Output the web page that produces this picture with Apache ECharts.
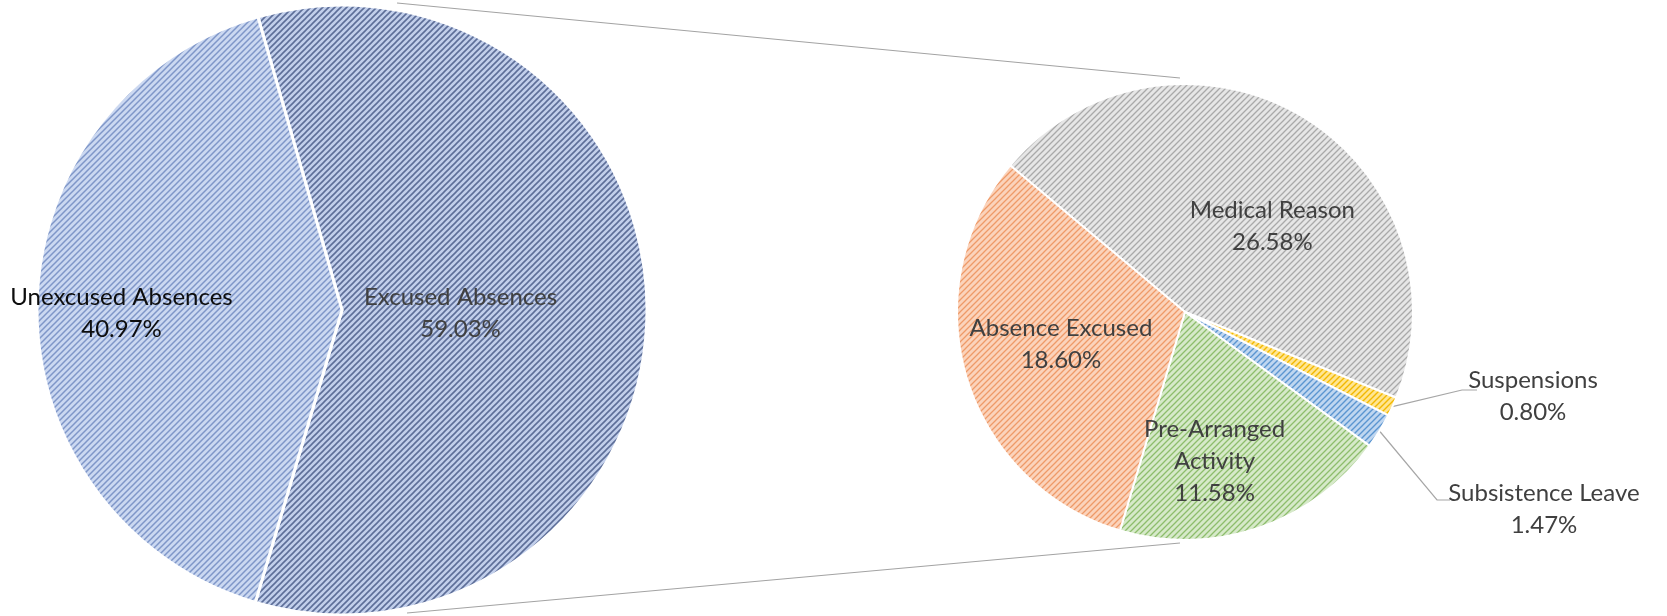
<!DOCTYPE html>
<html>
<head>
<meta charset="utf-8">
<script src="https://cdn.jsdelivr.net/npm/echarts@6/dist/echarts.min.js"></script>
<style>
  html, body { margin: 0; padding: 0; background: #ffffff; }
  #chart { width: 1667px; height: 616px; }
</style>
</head>
<body>
<div id="chart"></div>
<script>
// ---- data ----
const mainCategories = ['Excused Absences', 'Unexcused Absences'];
const mainValues = [59.03, 40.97];
const detailCategories = ['Medical Reason', 'Suspensions', 'Subsistence Leave', 'Pre-Arranged Activity', 'Absence Excused'];
const detailLabels = ['Medical Reason', 'Suspensions', 'Subsistence Leave', 'Pre-Arranged\nActivity', 'Absence Excused'];
const detailValues = [26.58, 0.80, 1.47, 11.58, 18.60];

// ---- geometry / style ----
const C1 = [342, 310], R1 = 305;
const C2 = [1185, 312], R2 = 228;
const FONT = 'Lato';
const FS = 24, LH = 32;

function hatch(bg, fg, size, lw) {
  const c = document.createElement('canvas');
  c.width = size; c.height = size;
  const g = c.getContext('2d');
  g.fillStyle = bg; g.fillRect(0, 0, size, size);
  g.strokeStyle = fg; g.lineWidth = lw; g.lineCap = 'square';
  g.beginPath();
  g.moveTo(0, size); g.lineTo(size, 0);
  g.moveTo(-1, 1); g.lineTo(1, -1);
  g.moveTo(size - 1, size + 1); g.lineTo(size + 1, size - 1);
  g.stroke();
  return { image: c, repeat: 'repeat' };
}

const mainFills = [
  hatch('#c2cfeb', '#5d6e98', 6, 1.6),
  hatch('#cbd8f1', '#7f96c8', 6, 1.5)
];
const detailFills = [
  hatch('#e6e6e6', '#a9a9a9', 6, 1.3),
  hatch('#ffe592', '#f2b800', 6, 1.4),
  hatch('#bfd6f0', '#5b95d0', 6, 1.4),
  hatch('#d6e9c9', '#8dbd6c', 6, 1.3),
  hatch('#fbd3bb', '#ee9a68', 6, 1.3)
];
const mainTextColors = ['#404040', '#0d0d0d'];
const mainOffsets = [[-37, 3], [-65, 4]];
const detailOffsets = [[27, 15], [0, 0], [0, 0], [-8, 38], [-12, -1]];
const outside = {
  1: { label: [348, 84], elbow: [277, 78], end: [292, 78] },
  2: { label: [359, 197], elbow: [252, 188], end: [265, 188] }
};

const chart = echarts.init(document.getElementById('chart'));

const option = {
  animation: false,
  backgroundColor: '#ffffff',
  graphic: [
    { type: 'line', z: 0, shape: { x1: C1[0] + 55, y1: C1[1] - R1 - 2, x2: C2[0] - 5, y2: C2[1] - R2 - 6 },
      style: { stroke: '#a3a3a3', lineWidth: 1.2 } },
    { type: 'line', z: 0, shape: { x1: C1[0] + 65, y1: C1[1] + R1 - 2, x2: C2[0] - 5, y2: C2[1] + R2 + 3 },
      style: { stroke: '#a3a3a3', lineWidth: 1.2 } }
  ],
  series: [
    {
      type: 'pie',
      center: C1,
      radius: R1,
      startAngle: 106,
      clockwise: true,
      avoidLabelOverlap: false,
      itemStyle: { borderColor: '#ffffff', borderWidth: 3 },
      label: {
        show: true,
        position: 'inside',
        fontFamily: FONT,
        fontSize: FS,
        lineHeight: LH,
        formatter: p => p.name + '\n' + p.value.toFixed(2) + '%'
      },
      labelLayout: p => ({ dx: mainOffsets[p.dataIndex][0], dy: mainOffsets[p.dataIndex][1] }),
      emphasis: { disabled: true },
      data: mainCategories.map((n, i) => ({
        name: n, value: mainValues[i],
        itemStyle: { color: mainFills[i] },
        label: { color: mainTextColors[i] }
      }))
    },
    {
      type: 'pie',
      center: C2,
      radius: R2,
      startAngle: 140,
      clockwise: true,
      avoidLabelOverlap: false,
      itemStyle: { borderColor: '#ffffff', borderWidth: 2 },
      label: {
        show: true,
        position: 'inside',
        fontFamily: FONT,
        fontSize: FS,
        lineHeight: LH,
        color: '#404040',
        align: 'center',
        formatter: p => detailLabels[p.dataIndex] + '\n' + p.value.toFixed(2) + '%'
      },
      labelLine: { show: false },
      labelLayout: p => {
        const o = outside[p.dataIndex];
        if (o) {
          const start = (p.labelLinePoints && p.labelLinePoints[0]) || [C2[0] + R2, C2[1]];
          return {
            x: C2[0] + o.label[0], y: C2[1] + o.label[1],
            align: 'center', verticalAlign: 'middle',
            labelLinePoints: [start, [C2[0] + o.elbow[0], C2[1] + o.elbow[1]], [C2[0] + o.end[0], C2[1] + o.end[1]]]
          };
        }
        return { dx: detailOffsets[p.dataIndex][0], dy: detailOffsets[p.dataIndex][1] };
      },
      emphasis: { disabled: true },
      data: detailCategories.map((n, i) => {
        const d = { name: n, value: detailValues[i], itemStyle: { color: detailFills[i] } };
        if (outside[i]) {
          d.label = { position: 'outside' };
          d.labelLine = { show: true, length: 20, length2: 15, lineStyle: { color: '#a6a6a6', width: 1.2 } };
        }
        return d;
      })
    }
  ]
};
chart.setOption(option);
</script>
</body>
</html>
